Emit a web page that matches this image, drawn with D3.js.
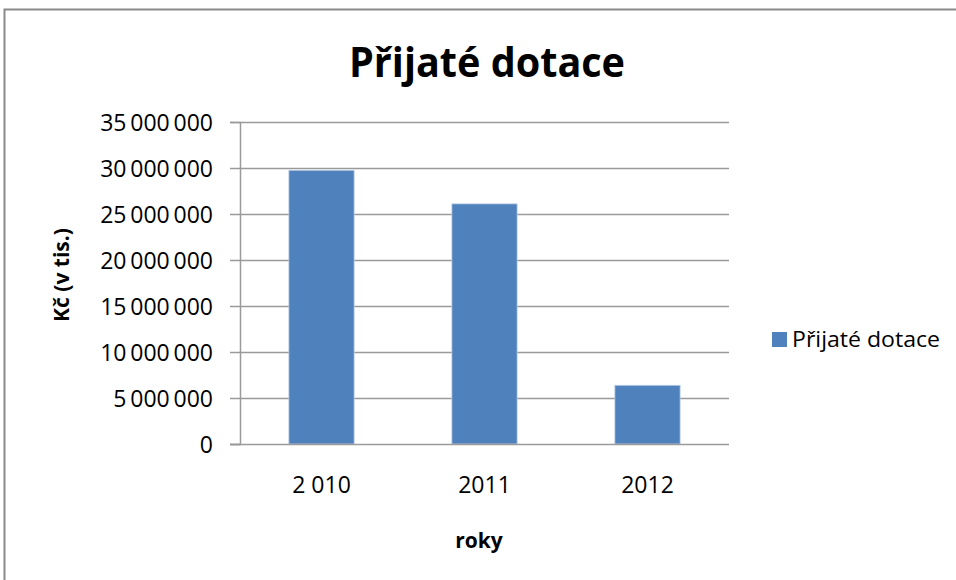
<!DOCTYPE html>
<html>
<head>
<meta charset="utf-8">
<script src="https://cdn.jsdelivr.net/npm/d3@7/dist/d3.min.js"></script>
<style>
  html, body { margin: 0; padding: 0; background: #fff; }
  svg { display: block; }
  text { font-family: "Open Sans", "Noto Sans", sans-serif; fill: #000; }
</style>
</head>
<body>
<script>
// Přijaté dotace po letech
const years = ["2 010", "2011", "2012"];
const grants = [29750000, 26100000, 6380000];
const yTicks = [0, 5000000, 10000000, 15000000, 20000000, 25000000, 30000000, 35000000];
const seriesName = "Přijaté dotace";

const W = 956, H = 580;
const plot = { left: 240, right: 729, top: 122, bottom: 444 };

const svg = d3.select("body").append("svg")
  .attr("width", W).attr("height", H);

// outer chart frame
svg.append("rect")
  .attr("x", 4.5).attr("y", 9.5)
  .attr("width", W + 10).attr("height", H + 10)
  .attr("fill", "#fff").attr("stroke", "#8a8a8a").attr("stroke-width", 2);

const x = d3.scaleBand()
  .domain(years)
  .range([plot.left, plot.right])
  .paddingInner(0.6).paddingOuter(0.3);

const y = d3.scaleLinear()
  .domain([0, 35000000])
  .range([plot.bottom, plot.top]);

const fmt = v => d3.format(",")(v).replace(/,/g, "\u2009");

// horizontal gridlines
svg.append("g")
  .selectAll("line")
  .data(yTicks.filter(v => v > 0))
  .join("line")
  .attr("x1", plot.left).attr("x2", plot.right)
  .attr("y1", d => Math.round(y(d)) + 0.5).attr("y2", d => Math.round(y(d)) + 0.5)
  .attr("stroke", "#9a9a9a").attr("stroke-width", 1.5);

// value axis
const yAxis = svg.append("g")
  .attr("transform", `translate(${plot.left},0)`)
  .call(d3.axisLeft(y).tickValues(yTicks).tickSize(10).tickPadding(17).tickFormat(fmt));
yAxis.select(".domain").attr("stroke", "#9a9a9a").attr("stroke-width", 1.5);
yAxis.selectAll(".tick line").attr("stroke", "#9a9a9a").attr("stroke-width", 1.5);
yAxis.selectAll(".tick text")
  .attr("font-size", 23).attr("fill", "#111")
  .attr("font-family", "\"Open Sans\", sans-serif")
  .attr("dy", "0.36em");

// bars
svg.append("g")
  .selectAll("rect")
  .data(grants)
  .join("rect")
  .attr("x", (d, i) => x(years[i]))
  .attr("y", d => y(d))
  .attr("width", x.bandwidth())
  .attr("height", d => y(0) - y(d))
  .attr("fill", "#4f81bd")
  .attr("stroke", "#b8cce4").attr("stroke-width", 0.8);

// category axis
const xAxis = svg.append("g")
  .attr("transform", `translate(0,${plot.bottom})`)
  .call(d3.axisBottom(x).tickSize(0).tickPadding(33));
xAxis.select(".domain").attr("stroke", "#9a9a9a").attr("stroke-width", 1.5)
  .attr("d", `M${plot.left - 10},0.5H${plot.right}`);
xAxis.selectAll(".tick text")
  .attr("font-size", 23).attr("fill", "#111")
  .attr("font-family", "\"Open Sans\", sans-serif");

// title
svg.append("text")
  .attr("x", 487).attr("y", 77)
  .attr("text-anchor", "middle")
  .attr("font-size", 42).attr("font-weight", "bold")
  .attr("textLength", 276).attr("lengthAdjust", "spacingAndGlyphs")
  .text("Přijaté dotace");

// axis titles
svg.append("text")
  .attr("transform", `translate(69,${(plot.top + plot.bottom) / 2 - 8}) rotate(-90)`)
  .attr("text-anchor", "middle")
  .attr("font-size", 21).attr("font-weight", "bold")
  .text("Kč (v tis.)");

svg.append("text")
  .attr("x", 479).attr("y", 548)
  .attr("text-anchor", "middle")
  .attr("font-size", 21).attr("font-weight", "bold")
  .text("roky");

// legend
const legend = svg.append("g").attr("transform", "translate(772,332)");
legend.append("rect")
  .attr("width", 15).attr("height", 15)
  .attr("fill", "#4f81bd");
legend.append("text")
  .attr("x", 20).attr("y", 15)
  .attr("font-size", 22).attr("fill", "#111")
  .attr("textLength", 148).attr("lengthAdjust", "spacingAndGlyphs")
  .text(seriesName);
</script>
</body>
</html>
